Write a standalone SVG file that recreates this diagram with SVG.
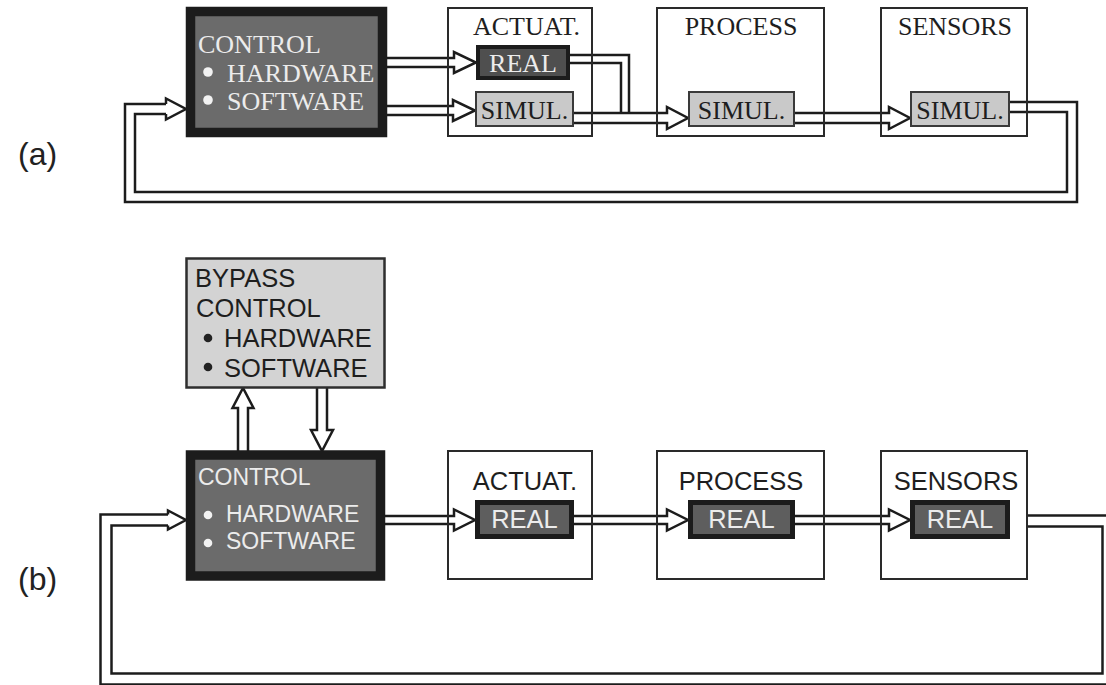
<svg xmlns="http://www.w3.org/2000/svg" width="1106" height="685" viewBox="0 0 1106 685">
<style>
.serif{font-family:"Liberation Serif","Times New Roman",serif;font-size:26px}
.sans{font-family:"Liberation Sans",Arial,sans-serif;font-size:25.5px}
.lt{fill:#ececec}
.dk{fill:#1e1e1e}
.outer{fill:none;stroke:#2a2a2a;stroke-width:2}
.ctrl{fill:#6b6b6b;stroke:#1c1c1c;stroke-width:9.5}
.real{fill:#4f4f4f;stroke:#1c1c1c;stroke-width:4}
.realb{fill:#5e5e5e;stroke:#1c1c1c;stroke-width:5}
.simul{fill:#c9c9c9;stroke:#3a3a3a;stroke-width:2}
.bypass{fill:#d3d3d3;stroke:#2e2e2e;stroke-width:2.5}
.arr{fill:#fff;stroke:#1c1c1c;stroke-width:2.5;stroke-linejoin:miter}
.bk{fill:none;stroke:#1c1c1c;stroke-linejoin:miter;stroke-linecap:butt}
.wh{fill:none;stroke:#fff;stroke-linejoin:miter;stroke-linecap:butt}
</style>

<g id="connectors">
  <!-- (a) -->
  <path class="arr" d="M387,58 H454 V52 L476,62.5 L454,73 V67 H387"/>
  <path class="arr" d="M387,106 H453 V100 L475,110.5 L453,121 V115 H387"/>
  <path class="bk" stroke-width="10.5" d="M570,59 H625 V118"/>
  <path class="wh" stroke-width="5.5" d="M570,59 H625 V118"/>
  <path class="arr" d="M574,113 H667 V107 L688,118 L667,129 V123 H574"/>
  <path class="arr" d="M795,113 H889 V107 L910,118 L889,129 V123 H795"/>
  <path class="bk" stroke-width="12.5" d="M1010,107 H1072 V197 H130 V109 H166"/>
  <path class="wh" stroke-width="7.5" d="M1010,107 H1072 V197 H130 V109 H166"/>
  <path class="arr" d="M166,104 V98.5 L186,109 L166,119.5 V114"/>
  <!-- (b) -->
  <path class="arr" d="M238,451 V408 H232.5 L243,388 L253.5,408 H248 V451"/>
  <path class="arr" d="M317,387 V430 H311 L322,451 L333,430 H327 V387"/>
  <path class="arr" d="M385,516 H454 V509.5 L475,520 L454,530.5 V524 H385"/>
  <path class="arr" d="M574,516 H667 V509.5 L688,520 L667,530.5 V524 H574"/>
  <path class="arr" d="M795,516 H889 V509.5 L910,520 L889,530.5 V524 H795"/>
  <path class="bk" stroke-width="13.5" d="M1028,521 H1108 V679 H106 V520 H168"/>
  <path class="wh" stroke-width="8.5" d="M1028,521 H1108 V679 H106 V520 H168"/>
  <path class="arr" d="M168,514.5 V510.5 L186,520 L168,529.5 V525.5"/>
</g>

<g id="label-a"><text class="sans" x="18" y="165" style="font-size:32px" fill="#222">(a)</text></g>
<g id="label-b"><text class="sans" x="18" y="590" style="font-size:32px" fill="#222">(b)</text></g>

<!-- (a) nodes -->
<g id="a-control">
  <rect class="ctrl" x="190.5" y="11.5" width="192" height="121"/>
  <text class="serif lt" x="198" y="53">CONTROL</text>
  <circle cx="208" cy="72" r="4.8" fill="#f2f2f2"/>
  <text class="serif lt" x="227" y="82">HARDWARE</text>
  <circle cx="208" cy="100" r="4.8" fill="#f2f2f2"/>
  <text class="serif lt" x="227" y="110">SOFTWARE</text>
</g>
<g id="a-actuat">
  <rect class="outer" x="448" y="8" width="144" height="128"/>
  <text class="serif dk" x="473" y="35">ACTUAT.</text>
  <rect class="real" x="478" y="47" width="90" height="31"/>
  <text class="serif lt" x="523" y="72" text-anchor="middle">REAL</text>
  <rect class="simul" x="476" y="92" width="97" height="34"/>
  <text class="serif dk" x="524.5" y="119" text-anchor="middle">SIMUL.</text>
</g>
<g id="a-process">
  <rect class="outer" x="657" y="8" width="167" height="128"/>
  <text class="serif dk" x="741" y="35" text-anchor="middle">PROCESS</text>
  <rect class="simul" x="689" y="92" width="105" height="34"/>
  <text class="serif dk" x="741.5" y="119" text-anchor="middle">SIMUL.</text>
</g>
<g id="a-sensors">
  <rect class="outer" x="881" y="8" width="146" height="128"/>
  <text class="serif dk" x="955" y="35" text-anchor="middle">SENSORS</text>
  <rect class="simul" x="911" y="92" width="98" height="34"/>
  <text class="serif dk" x="960" y="119" text-anchor="middle">SIMUL.</text>
</g>

<!-- (b) nodes -->
<g id="b-bypass">
  <rect class="bypass" x="186.5" y="258.5" width="198" height="129"/>
  <text class="sans dk" x="195" y="287">BYPASS</text>
  <text class="sans dk" x="196" y="317">CONTROL</text>
  <circle cx="208" cy="338" r="4.3" fill="#222"/>
  <text class="sans dk" x="224" y="347">HARDWARE</text>
  <circle cx="208" cy="367" r="4.3" fill="#222"/>
  <text class="sans dk" x="224" y="377">SOFTWARE</text>
</g>
<g id="b-control">
  <rect class="ctrl" x="190.5" y="455" width="190" height="121"/>
  <text class="sans lt" x="198" y="485" style="font-size:23px">CONTROL</text>
  <circle cx="208" cy="515" r="4.3" fill="#f2f2f2"/>
  <text class="sans lt" x="226" y="522" style="font-size:23px">HARDWARE</text>
  <circle cx="208" cy="543" r="4.3" fill="#f2f2f2"/>
  <text class="sans lt" x="226" y="549" style="font-size:23px">SOFTWARE</text>
</g>
<g id="b-actuat">
  <rect class="outer" x="448" y="451" width="144" height="128"/>
  <text class="sans dk" x="525" y="490" text-anchor="middle">ACTUAT.</text>
  <rect class="realb" x="477.5" y="502.5" width="94" height="34"/>
  <text class="sans lt" x="524.5" y="528" text-anchor="middle">REAL</text>
</g>
<g id="b-process">
  <rect class="outer" x="657" y="451" width="167" height="128"/>
  <text class="sans dk" x="741" y="490" text-anchor="middle">PROCESS</text>
  <rect class="realb" x="690.5" y="502.5" width="102" height="34"/>
  <text class="sans lt" x="741.5" y="528" text-anchor="middle">REAL</text>
</g>
<g id="b-sensors">
  <rect class="outer" x="881" y="451" width="146" height="128"/>
  <text class="sans dk" x="956" y="490" text-anchor="middle">SENSORS</text>
  <rect class="realb" x="912.5" y="502.5" width="95" height="34"/>
  <text class="sans lt" x="960" y="528" text-anchor="middle">REAL</text>
</g>
</svg>
